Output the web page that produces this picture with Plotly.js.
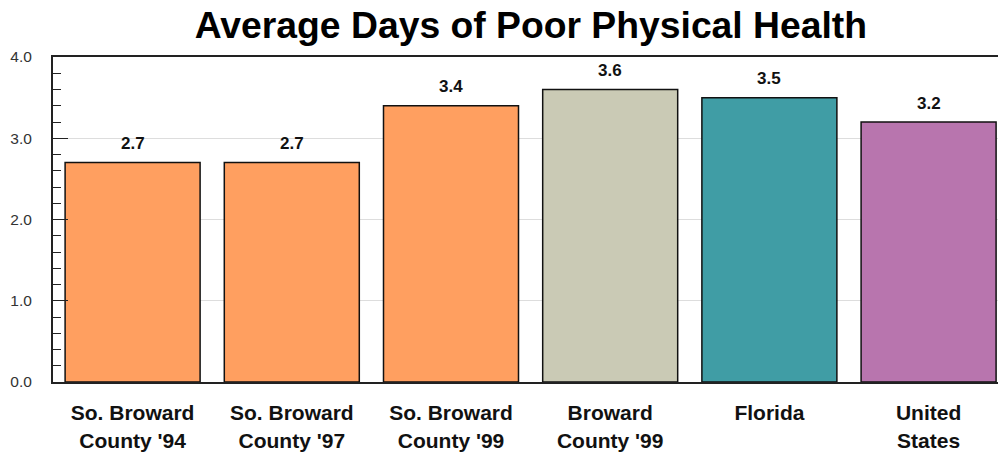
<!DOCTYPE html>
<html>
<head>
<meta charset="utf-8">
<script src="https://cdn.plot.ly/plotly-3.0.1.min.js"></script>
<style>html,body{margin:0;padding:0;background:#fff;}#chart{width:998px;height:456px;}</style>
</head>
<body>
<div id="chart"></div>
<script>
const categories = ["So. Broward<br>County '94", "So. Broward<br>County '97", "So. Broward<br>County '99", "Broward<br>County '99", "Florida", "United<br>States"];
const values = [2.7, 2.7, 3.4, 3.6, 3.5, 3.2];
const valueLabels = ["2.7", "2.7", "3.4", "3.6", "3.5", "3.2"];
const barColors = ["#FF9F60", "#FF9F60", "#FF9F60", "#CACAB5", "#409DA5", "#B875AE"];
const yTickVals = [0, 1, 2, 3, 4];
const yTickText = ["0.0", "1.0", "2.0", "3.0", "4.0"];

const font = "Liberation Sans, Arial, sans-serif";
const xIdx = categories.map((c, i) => i);
const trace = {
  type: "bar",
  x: xIdx,
  y: values,
  marker: {color: barColors, line: {color: "#111", width: 1.5}},
  hoverinfo: "skip"
};
const annotations = xIdx.map((x, i) => ({
  x: x, y: values[i], xref: "x", yref: "y",
  text: "<b>" + valueLabels[i] + "</b>", showarrow: false,
  yanchor: "middle", yshift: 19,
  font: {family: font, size: 17, color: "#111"}
}));
const layout = {
  width: 998, height: 456,
  margin: {l: 53, r: 0, t: 57, b: 74},
  paper_bgcolor: "#fff", plot_bgcolor: "#fff",
  showlegend: false,
  bargap: 0.152,
  annotations: annotations,
  title: {text: "<b>Average Days of Poor Physical Health</b>", font: {family: font, size: 37.3, color: "#000"}, x: 0.532, xanchor: "center", y: 0.945, yanchor: "middle"},
  xaxis: {
    range: [-0.5, 5.436],
    tickvals: xIdx,
    ticktext: categories.map(c => "<b>" + c + "</b>"),
    tickfont: {family: font, size: 21, color: "#111"},
    ticks: "", showgrid: false, zeroline: false,
    showline: true, linecolor: "#222", linewidth: 2, mirror: true,
    ticklabelstandoff: 11
  },
  yaxis: {
    range: [0, 4],
    tickvals: yTickVals, ticktext: yTickText,
    tickfont: {family: font, size: 15.5, color: "#333"},
    ticks: "inside", ticklen: 15, tickcolor: "#222", tickwidth: 1,
    minor: {dtick: 0.2, ticks: "inside", ticklen: 8, tickcolor: "#222", tickwidth: 1, showgrid: false},
    showgrid: true, gridcolor: "#dddddd", gridwidth: 1,
    zeroline: false, showline: true, linecolor: "#222", linewidth: 2,
    ticklabelstandoff: 16
  }
};
Plotly.newPlot("chart", [trace], layout, {staticPlot: true, displayModeBar: false});
</script>
</body>
</html>
